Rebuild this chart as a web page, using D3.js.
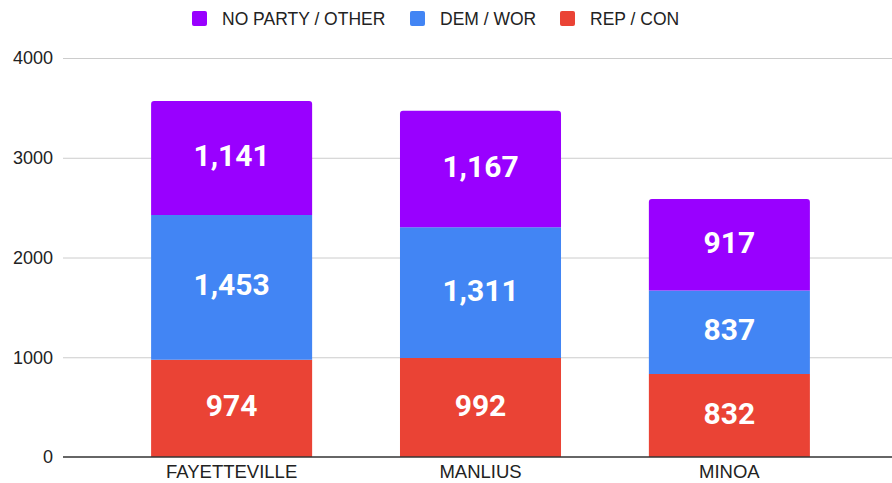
<!DOCTYPE html>
<html>
<head>
<meta charset="utf-8">
<script src="https://cdn.jsdelivr.net/npm/d3@7"></script>
<style>
  body { margin: 0; background: #fff; }
  svg { display: block; }
</style>
</head>
<body>
<div id="chart"></div>
<script>
// data
const towns = ["FAYETTEVILLE", "MANLIUS", "MINOA"];
const rep = [974, 992, 832];
const dem = [1453, 1311, 837];
const other = [1141, 1167, 917];
const yTicks = [0, 1000, 2000, 3000, 4000];

const seriesNames = ["REP / CON", "DEM / WOR", "NO PARTY / OTHER"];
const colors = ["#ea4335", "#4285f4", "#9900ff"];

const W = 892, H = 483;
const margin = {top: 58, right: 0, bottom: 26, left: 63};

const rows = towns.map((t, i) => ({town: t, rep: rep[i], dem: dem[i], other: other[i]}));
const stack = d3.stack().keys(["rep", "dem", "other"]);
const layers = stack(rows);

const svg = d3.select("#chart").append("svg")
    .attr("width", W)
    .attr("height", H)
    .style("font-family", "'Liberation Sans', Arial, sans-serif");

const x = d3.scaleBand()
    .domain(towns)
    .range([margin.left, 898])
    .paddingInner(0.353)
    .paddingOuter(0.354);

const y = d3.scaleLinear()
    .domain([0, 4000])
    .range([H - margin.bottom, margin.top]);

// gridlines
svg.append("g")
    .selectAll("line")
    .data(yTicks.slice(1))
    .join("line")
    .attr("x1", margin.left)
    .attr("x2", W)
    .attr("y1", d => y(d) + 0.5)
    .attr("y2", d => y(d) + 0.5)
    .attr("stroke", "#cccccc")
    .attr("stroke-width", 1);

// y axis labels
const yAxis = svg.append("g")
    .attr("transform", "translate(" + margin.left + ",0)")
    .call(d3.axisLeft(y).tickValues(yTicks).tickFormat(d3.format("d")).tickSize(0).tickPadding(10));
yAxis.select(".domain").remove();
yAxis.selectAll("text")
    .attr("font-size", 18)
    .attr("fill", "#222")
    .style("font-family", "'Liberation Sans', Arial, sans-serif");

// bars
const groups = svg.append("g")
    .selectAll("g")
    .data(layers)
    .join("g")
    .attr("fill", (d, i) => colors[i]);

groups.each(function(layer, li) {
    const g = d3.select(this);
    g.selectAll("path")
        .data(layer)
        .join("path")
        .attr("d", d => {
            const x0 = x(d.data.town), x1 = x0 + x.bandwidth();
            const yt = y(d[1]), yb = y(d[0]);
            const r = li === layers.length - 1 ? 3 : 0;
            return "M" + x0 + "," + yb +
                "L" + x0 + "," + (yt + r) +
                "Q" + x0 + "," + yt + " " + (x0 + r) + "," + yt +
                "L" + (x1 - r) + "," + yt +
                "Q" + x1 + "," + yt + " " + x1 + "," + (yt + r) +
                "L" + x1 + "," + yb + "Z";
        });
});

// value labels
groups.each(function(layer) {
    d3.select(this).selectAll("text")
        .data(layer)
        .join("text")
        .attr("x", d => x(d.data.town) + x.bandwidth() / 2)
        .attr("y", d => (y(d[0]) + y(d[1])) / 2 + 8)
        .attr("text-anchor", "middle")
        .attr("fill", "#fff")
        .attr("font-family", "Roboto, sans-serif")
        .attr("font-weight", "bold")
        .attr("font-size", 30)
        .text(d => d3.format(",")(d[1] - d[0]));
});

// x axis baseline
svg.append("line")
    .attr("x1", margin.left)
    .attr("x2", W)
    .attr("y1", y(0))
    .attr("y2", y(0))
    .attr("stroke", "#333")
    .attr("stroke-width", 1.5);

// x labels
svg.append("g")
    .selectAll("text")
    .data(towns)
    .join("text")
    .attr("x", d => x(d) + x.bandwidth() / 2)
    .attr("y", 478)
    .attr("text-anchor", "middle")
    .attr("font-size", 18.5)
    .attr("fill", "#222")
    .text(d => d);

// legend (reverse order like the reference)
const legendItems = [
    {name: seriesNames[2], color: colors[2], x: 192},
    {name: seriesNames[1], color: colors[1], x: 410},
    {name: seriesNames[0], color: colors[0], x: 560}
];
const legend = svg.append("g").selectAll("g")
    .data(legendItems)
    .join("g")
    .attr("transform", d => "translate(" + d.x + ",0)");
legend.append("rect")
    .attr("x", 0).attr("y", 11)
    .attr("width", 15).attr("height", 15)
    .attr("rx", 2)
    .attr("fill", d => d.color);
legend.append("text")
    .attr("x", 30)
    .attr("y", 25)
    .attr("font-size", 17.5)
    .attr("fill", "#222")
    .text(d => d.name);
</script>
</body>
</html>
